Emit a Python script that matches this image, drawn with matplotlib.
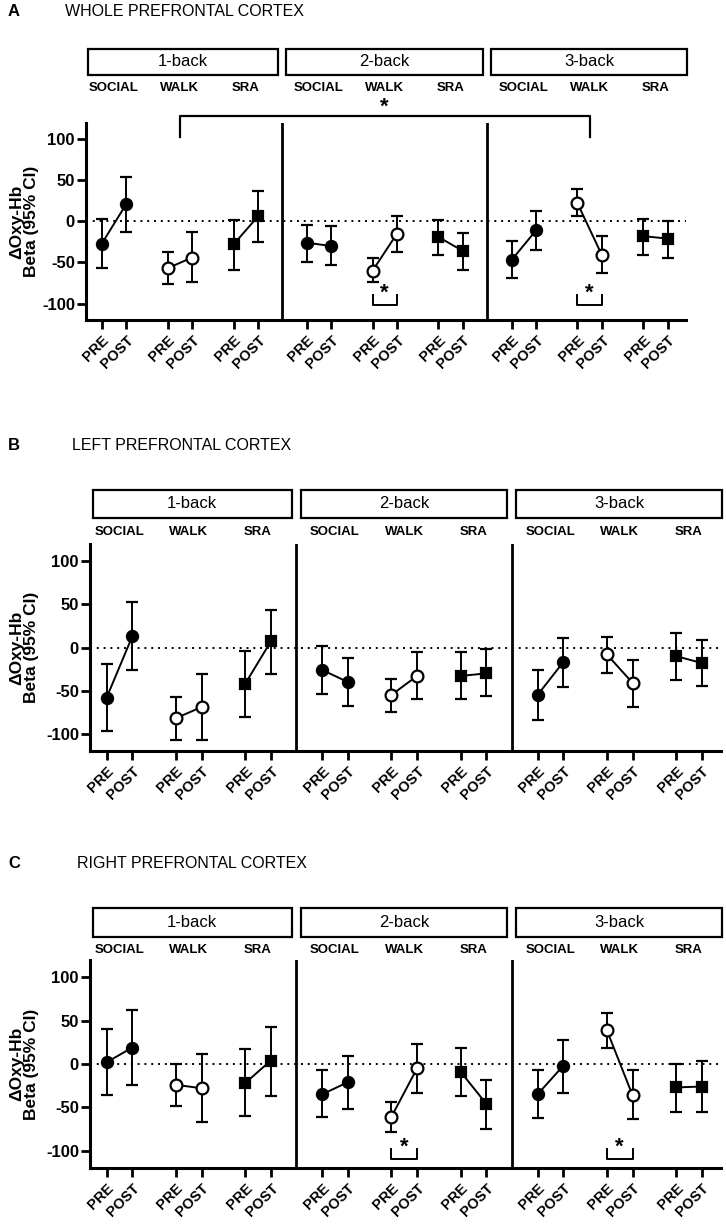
import numpy as np
import matplotlib.pyplot as plt
from matplotlib.patches import Rectangle
from matplotlib.transforms import blended_transform_factory

plt.rcParams['font.family'] = ['Liberation Sans', 'DejaVu Sans']

loads = ['1-back', '2-back', '3-back']
conditions = ['SOCIAL', 'WALK', 'SRA']
times = ['PRE', 'POST']
y_ticks = [-100, -50, 0, 50, 100]

# beta means and 95% CI bounds, order: load -> condition -> PRE, POST
whole_mean = [-27, 21, -57, -44, -28, 6,
              -26, -30, -60, -15, -19, -36,
              -47, -11, 22, -41, -18, -21]
whole_lo = [-57, -13, -76, -74, -59, -25,
            -49, -53, -74, -37, -41, -59,
            -69, -35, 7, -63, -41, -44]
whole_hi = [3, 54, -37, -13, 2, 37,
            -5, -6, -45, 7, 2, -14,
            -24, 13, 39, -18, 3, 1]

left_mean = [-58, 13, -82, -69, -42, 7,
             -26, -40, -55, -33, -33, -30,
             -55, -17, -8, -41, -10, -18]
left_lo = [-97, -26, -107, -107, -80, -31,
           -54, -68, -75, -60, -60, -56,
           -84, -46, -29, -69, -38, -45]
left_hi = [-19, 53, -57, -31, -4, 44,
           2, -12, -37, -5, -5, -2,
           -26, 11, 12, -14, 17, 9]

right_mean = [2, 19, -24, -28, -22, 4,
              -35, -21, -61, -5, -9, -46,
              -35, -2, 39, -36, -27, -26]
right_lo = [-36, -24, -48, -67, -60, -37,
            -61, -52, -79, -34, -37, -75,
            -62, -34, 19, -64, -55, -55]
right_hi = [40, 62, 0, 12, 17, 43,
            -7, 9, -44, 23, 18, -18,
            -7, 28, 59, -7, 0, 4]

# significant PRE vs POST pairs (load index, condition index)
whole_sig = [(1, 1), (2, 1)]
left_sig = []
right_sig = [(1, 1), (2, 1)]

GROUP = 8.4
PAIR = 2.7
XLIM = (-0.65, 23.95)

def xpos(g, c, t):
    return g * GROUP + c * PAIR + t

marker_style = {
    'SOCIAL': dict(marker='o', mfc='black', ms=8),
    'WALK': dict(marker='o', mfc='white', ms=8.5),
    'SRA': dict(marker='s', mfc='black', ms=7.5),
}

fig = plt.figure(figsize=(7.26, 12.24), dpi=100)
H = 1224.0
W = 726.0

panels = [
    dict(letter='A', title='WHOLE PREFRONTAL CORTEX', title_x=65, title_y=11,
         mean=whole_mean, lo=whole_lo, hi=whole_hi, sig=whole_sig, sig_y=-102,
         ax=(86, 122.7, 686, 320), box=(49, 75), cat_y=88),
    dict(letter='B', title='LEFT PREFRONTAL CORTEX', title_x=72, title_y=445,
         mean=left_mean, lo=left_lo, hi=left_hi, sig=left_sig, sig_y=-110,
         ax=(90, 544, 721, 751), box=(490, 518), cat_y=532),
    dict(letter='C', title='RIGHT PREFRONTAL CORTEX', title_x=77, title_y=863,
         mean=right_mean, lo=right_lo, hi=right_hi, sig=right_sig, sig_y=-110,
         ax=(90, 960, 721, 1168), box=(908, 937), cat_y=950),
]

for p in panels:
    x0, y0, x1, y1 = p['ax']
    ax = fig.add_axes([x0 / W, 1 - y1 / H, (x1 - x0) / W, (y1 - y0) / H])
    ax.set_xlim(*XLIM)
    ax.set_ylim(-120, 120)

    fig.text(8 / W, 1 - p['title_y'] / H, p['letter'], fontsize=12,
             fontweight='bold', va='center', ha='left')
    fig.text(p['title_x'] / W, 1 - p['title_y'] / H, p['title'], fontsize=11.5,
             va='center', ha='left')

    ax.axhline(0, color='black', ls=(0, (1, 2.5)), lw=1.4, zorder=1)

    ticks, labels = [], []
    k = 0
    for g in range(len(loads)):
        for c, cond in enumerate(conditions):
            xs = [xpos(g, c, 0), xpos(g, c, 1)]
            m = np.array(p['mean'][k:k + 2])
            lo = np.array(p['lo'][k:k + 2])
            hi = np.array(p['hi'][k:k + 2])
            k += 2
            ax.errorbar(xs, m, yerr=[m - lo, hi - m], color='black', lw=1.4,
                        elinewidth=1.4, capsize=4.5, capthick=1.4,
                        mec='black', mew=1.6, zorder=3, **marker_style[cond])
            ticks += xs
            labels += times

    # dividers between loads
    for g in range(1, len(loads)):
        xd = g * GROUP - (GROUP - 2 * PAIR - 1) / 2
        ax.axvline(xd, color='black', lw=2.0, zorder=2)

    # PRE vs POST significance brackets
    for g, c in p['sig']:
        a, b = xpos(g, c, 0), xpos(g, c, 1)
        sy = p['sig_y']
        ax.plot([a, a, b, b], [sy + 12, sy, sy, sy + 12], color='black', lw=1.4)
        ax.text((a + b) / 2, sy + 2, '*', fontsize=16, fontweight='bold',
                ha='center', va='bottom')

    ax.set_xticks(ticks)
    ax.set_xticklabels(labels, rotation=45, ha='right', rotation_mode='anchor',
                       fontweight='bold', fontsize=10.5)
    ax.set_yticks(y_ticks)
    ax.set_yticklabels([str(v) for v in y_ticks], fontweight='bold', fontsize=12)
    ax.tick_params(width=2, length=6.5, color='black')
    ax.tick_params(axis='y', pad=1.5)
    ax.tick_params(axis='x', pad=3)
    for s in ['top', 'right']:
        ax.spines[s].set_visible(False)
    for s in ['left', 'bottom']:
        ax.spines[s].set_linewidth(2.2)

    lx = -(x0 - 24) / (x1 - x0)
    ax.text(lx, 0.5, '\u0394Oxy-Hb\nBeta (95% CI)', transform=ax.transAxes,
            rotation=90, ha='center', va='center', fontsize=12.5,
            fontweight='bold', multialignment='center', linespacing=1.0)

    # header boxes with load names and condition labels
    tr = blended_transform_factory(ax.transData, fig.transFigure)
    edges = [XLIM[0] + 0.1] + [g * GROUP - 1.0 + 0.16 for g in range(1, 3)]
    ends = [g * GROUP - 1.0 - 0.18 for g in range(1, 3)] + [XLIM[1] + 0.03]
    by0, by1 = p['box']
    for g, name in enumerate(loads):
        ax.add_patch(Rectangle((edges[g], 1 - by1 / H), ends[g] - edges[g],
                               (by1 - by0) / H, transform=tr, fill=False,
                               lw=1.6, ec='black', clip_on=False))
        ax.text((edges[g] + ends[g]) / 2, 1 - (by0 + by1) / 2 / H, name,
                transform=tr, ha='center', va='center', fontsize=12)
        for c, cond in enumerate(conditions):
            ax.text(xpos(g, c, 0.5), 1 - p['cat_y'] / H, cond, transform=tr,
                    ha='center', va='center', fontsize=9.5, fontweight='bold')

    if p['letter'] == 'A':
        # bracket between 1-back WALK and 3-back WALK
        a, b = xpos(0, 1, 0.5), xpos(2, 1, 0.5)
        ax.plot([a, a, b, b], [102, 128, 128, 102], color='black', lw=1.6,
                clip_on=False)
        ax.text((a + b) / 2, 126, '*', fontsize=16, fontweight='bold',
                ha='center', va='bottom')

fig.savefig('out.png', dpi=100)
